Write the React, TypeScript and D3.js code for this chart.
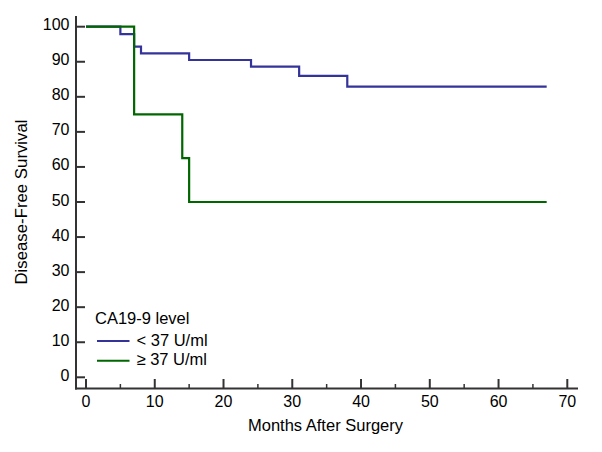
import React, { useEffect, useRef } from 'react';
import * as d3 from 'd3';

// Kaplan-Meier estimates
const lowMonths = [0, 5, 7, 8, 15, 24, 31, 38, 67];
const lowSurvival = [100, 97.9, 94.3, 92.4, 90.5, 88.6, 86.0, 82.9, 82.9];
const highMonths = [0, 7, 14, 15, 67];
const highSurvival = [100, 75, 62.5, 50, 50];

const xTicks = [0, 10, 20, 30, 40, 50, 60, 70];
const xMinorTicks = [5, 15, 25, 35, 45, 55, 65];
const yTicks = [0, 10, 20, 30, 40, 50, 60, 70, 80, 90, 100];

const legendTitle = 'CA19-9 level';
const seriesNames = ['< 37 U/ml', '≥ 37 U/ml'];
const seriesColors = ['#333399', '#006600'];

const App: React.FC = () => {
  const svgRef = useRef<SVGSVGElement>(null);

  useEffect(() => {
    if (!svgRef.current) return;
    const svg = d3.select(svgRef.current);
    svg.selectAll('*').remove();

    const font = '"Liberation Sans", Arial, sans-serif';
    const axisColor = '#333333';

    const x = d3.scaleLinear().domain([0, 70]).range([86, 567.3]);
    const y = d3.scaleLinear().domain([0, 100]).range([377.3, 26.7]);
    const axisX = 76;
    const axisY = 388.5;

    // axes
    svg.append('line')
      .attr('x1', axisX).attr('x2', axisX)
      .attr('y1', 16).attr('y2', axisY + 1)
      .style('stroke', axisColor).style('stroke-width', 2);
    svg.append('line')
      .attr('x1', axisX - 1).attr('x2', 578)
      .attr('y1', axisY).attr('y2', axisY)
      .style('stroke', axisColor).style('stroke-width', 2);

    // y ticks
    svg.selectAll('.ytick')
      .data(yTicks)
      .enter()
      .append('line')
      .attr('x1', axisX).attr('x2', axisX + 9)
      .attr('y1', d => y(d)).attr('y2', d => y(d))
      .style('stroke', axisColor).style('stroke-width', 2);
    svg.selectAll('.ylabel')
      .data(yTicks)
      .enter()
      .append('text')
      .attr('x', 69.5)
      .attr('y', d => y(d) + 3.5)
      .attr('text-anchor', 'end')
      .style('font-family', font).style('font-size', '16px').style('fill', '#000')
      .text(d => d);

    // x ticks
    svg.selectAll('.xtick')
      .data(xTicks)
      .enter()
      .append('line')
      .attr('x1', d => x(d)).attr('x2', d => x(d))
      .attr('y1', axisY).attr('y2', axisY - 9.5)
      .style('stroke', axisColor).style('stroke-width', 2);
    svg.selectAll('.xminor')
      .data(xMinorTicks)
      .enter()
      .append('line')
      .attr('x1', d => x(d)).attr('x2', d => x(d))
      .attr('y1', axisY).attr('y2', axisY - 4.5)
      .style('stroke', axisColor).style('stroke-width', 1.5);
    svg.selectAll('.xlabel')
      .data(xTicks)
      .enter()
      .append('text')
      .attr('x', d => x(d))
      .attr('y', 407)
      .attr('text-anchor', 'middle')
      .style('font-family', font).style('font-size', '16px').style('fill', '#000')
      .text(d => d);

    // axis titles
    svg.append('text')
      .attr('x', 325.5).attr('y', 431)
      .attr('text-anchor', 'middle')
      .style('font-family', font).style('font-size', '16.5px').style('fill', '#000')
      .text('Months After Surgery');
    svg.append('text')
      .attr('transform', `translate(26.5,${y(50)}) rotate(-90)`)
      .attr('text-anchor', 'middle')
      .style('font-family', font).style('font-size', '16.8px').style('fill', '#000')
      .text('Disease-Free Survival');

    // survival curves
    const line = d3.line<[number, number]>()
      .x(d => x(d[0]))
      .y(d => y(d[1]))
      .curve(d3.curveStepAfter);

    const series: [number, number][][] = [
      lowMonths.map((m, i) => [m, lowSurvival[i]]),
      highMonths.map((m, i) => [m, highSurvival[i]]),
    ];
    series.forEach((pts, i) => {
      svg.append('path')
        .attr('d', line(pts))
        .style('fill', 'none')
        .style('stroke', seriesColors[i])
        .style('stroke-width', 2.2);
    });

    // legend
    svg.append('text')
      .attr('x', 95).attr('y', 324)
      .style('font-family', font).style('font-size', '16.5px').style('fill', '#000')
      .text(legendTitle);
    const legend = svg.selectAll('.legend')
      .data(seriesNames)
      .enter()
      .append('g')
      .attr('transform', (d, i) => `translate(0,${341 + i * 19.7})`);
    legend.append('line')
      .attr('x1', 97).attr('x2', 129.5)
      .attr('y1', 0).attr('y2', 0)
      .style('stroke', (d, i) => seriesColors[i])
      .style('stroke-width', 2);
    legend.append('text')
      .attr('x', 136.5).attr('y', 4.5)
      .style('font-family', font).style('font-size', '16.5px').style('fill', '#000')
      .text(d => d);
  }, []);

  return (
    <svg
      ref={svgRef}
      width={602}
      height={452}
      style={{ position: 'absolute', left: 0, top: 0, background: '#fff' }}
    />
  );
};

export default App;
